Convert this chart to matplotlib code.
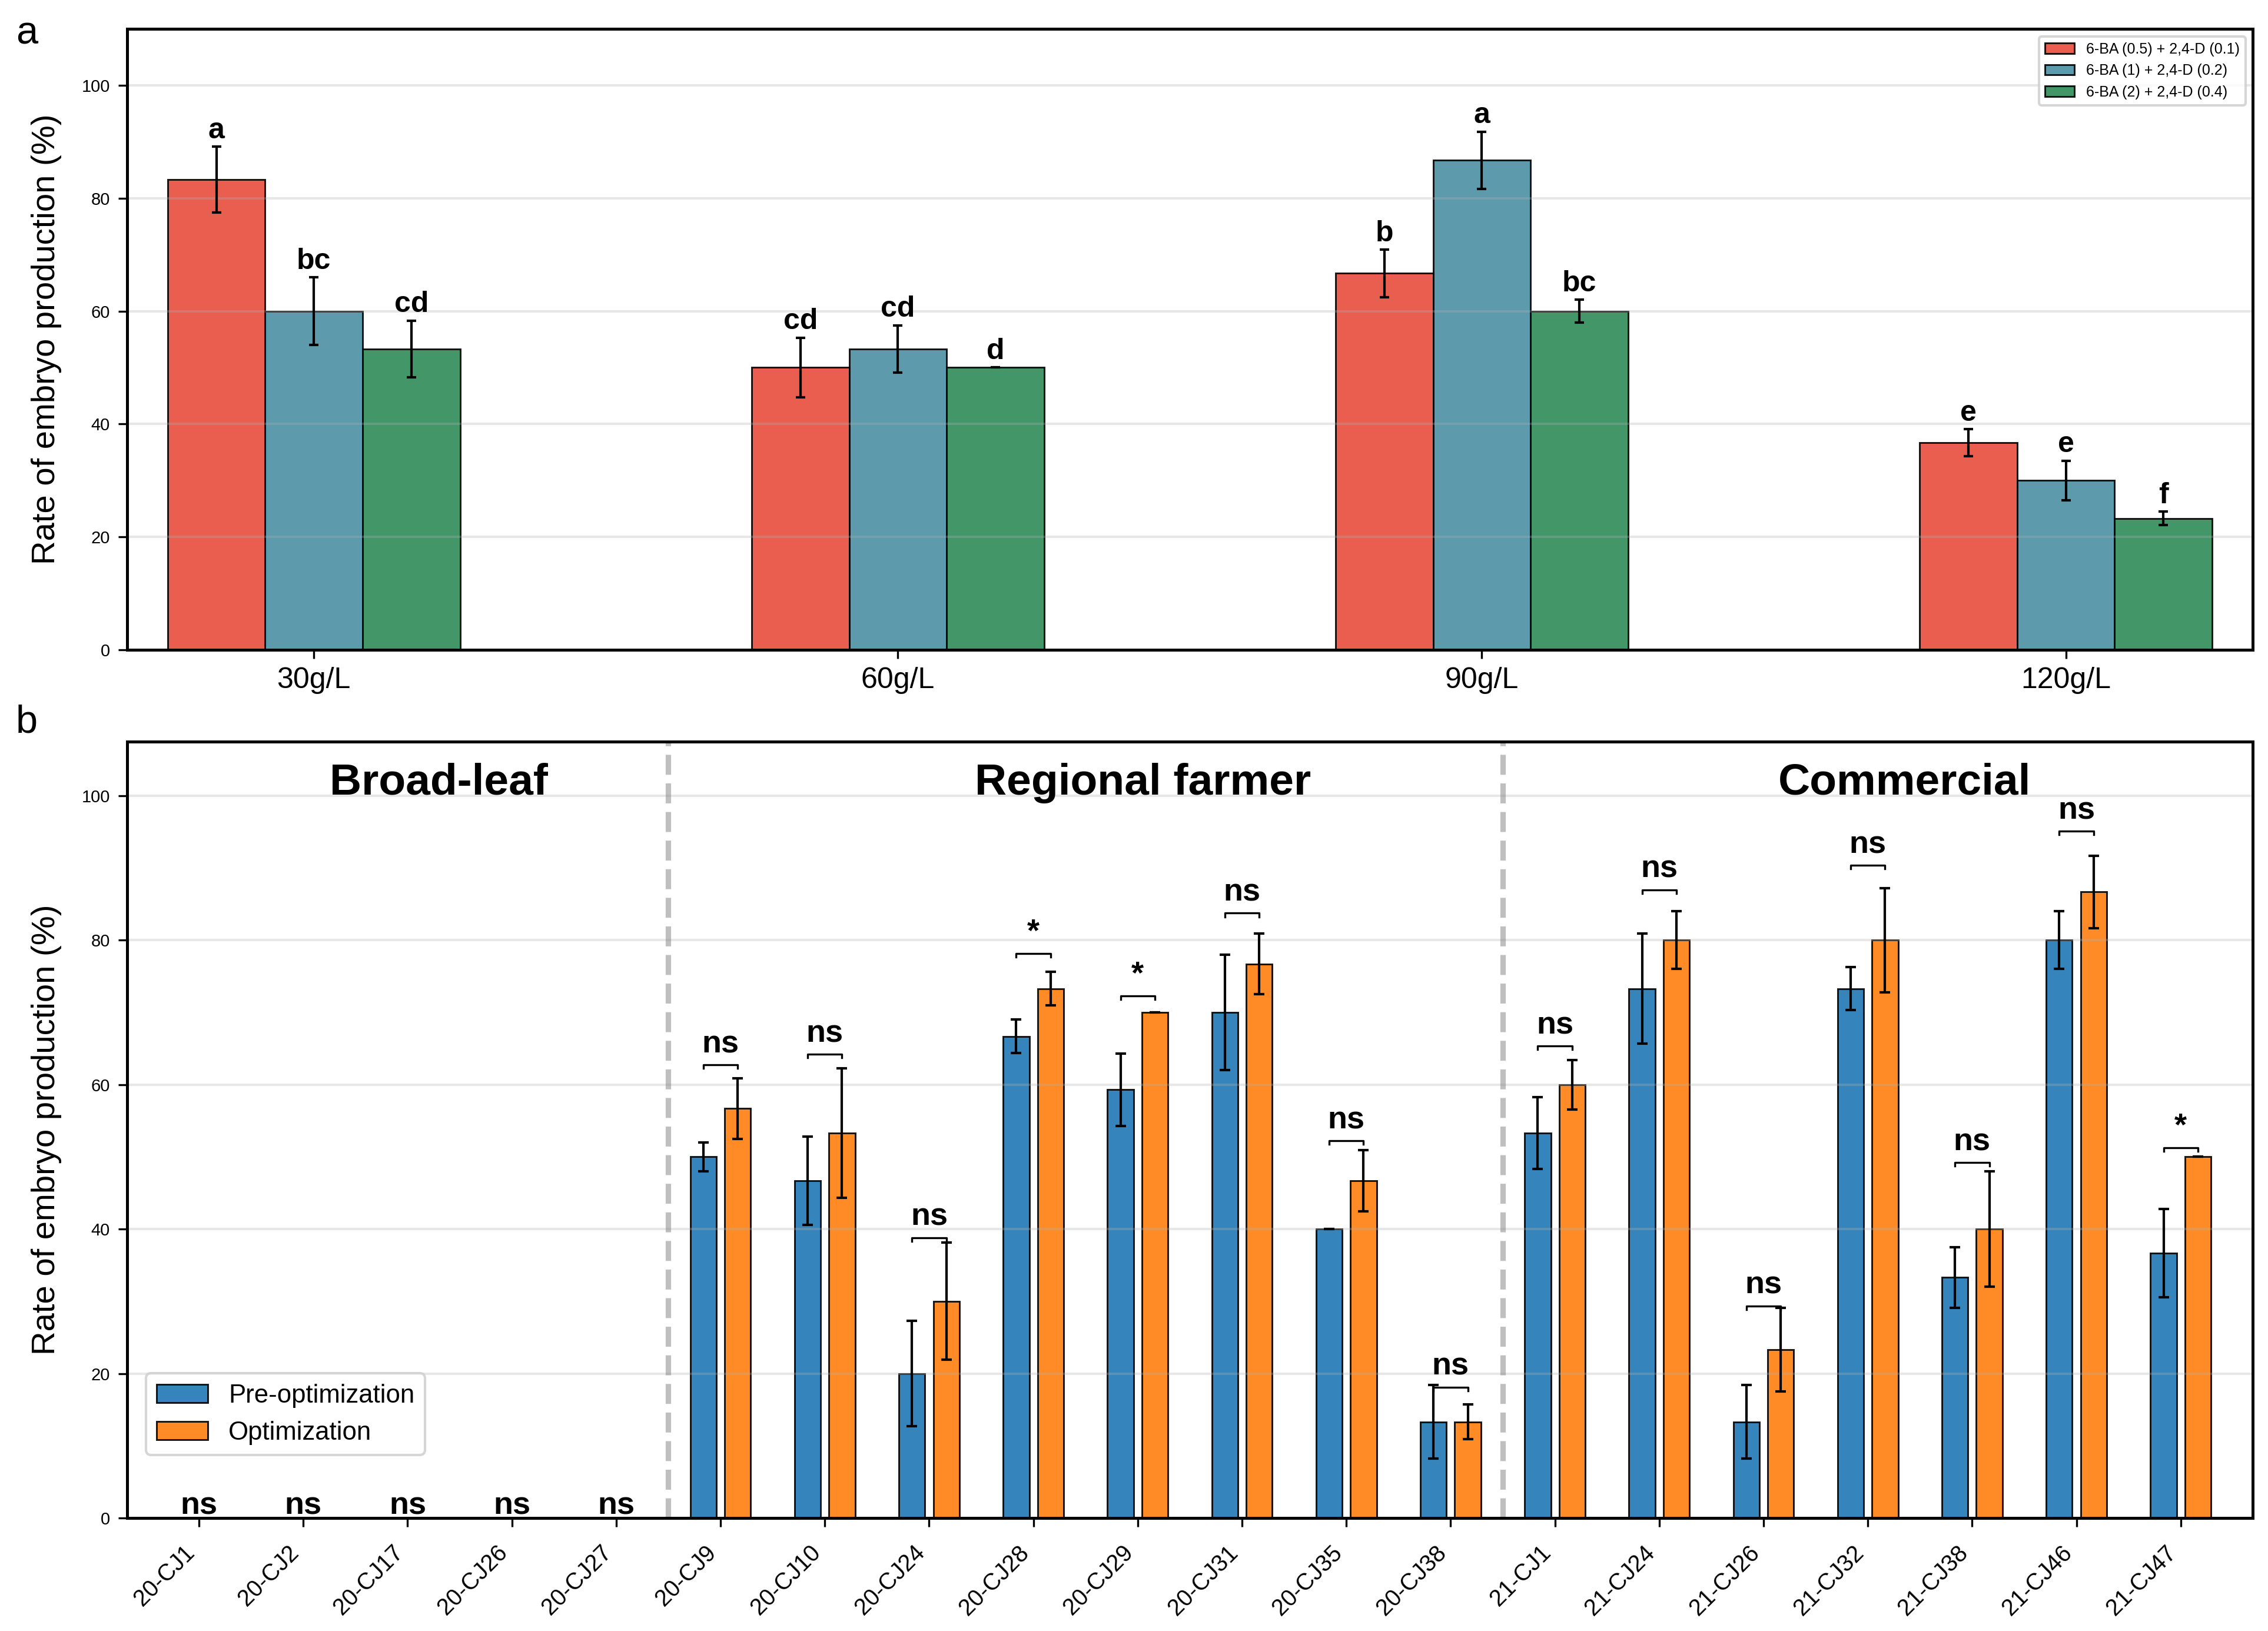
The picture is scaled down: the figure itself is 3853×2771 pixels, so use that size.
import matplotlib
matplotlib.use("Agg")
import matplotlib.pyplot as plt
import numpy as np

plt.rcParams["font.family"] = ["Liberation Sans", "DejaVu Sans"]

# panel a: sucrose concentration x hormone combination
CONC = ["30g/L", "60g/L", "90g/L", "120g/L"]
TREAT = ["6-BA (0.5) + 2,4-D (0.1)", "6-BA (1) + 2,4-D (0.2)", "6-BA (2) + 2,4-D (0.4)"]
MEAN_A = [[83.3, 50.0, 66.7, 36.7],
          [60.0, 53.3, 86.7, 30.0],
          [53.3, 50.0, 60.0, 23.3]]
ERR_A = [[5.8, 5.3, 4.2, 2.4],
         [6.0, 4.2, 5.1, 3.5],
         [5.0, 0.0, 2.0, 1.2]]
LETTERS = [["a", "cd", "b", "e"],
           ["bc", "cd", "a", "e"],
           ["cd", "d", "bc", "f"]]
COL_A = ["#E74C3C", "#4A8FA3", "#2E8B57"]

# panel b: cultivars before / after optimisation
CULTIVARS = ["20-CJ1", "20-CJ2", "20-CJ17", "20-CJ26", "20-CJ27",
             "20-CJ9", "20-CJ10", "20-CJ24", "20-CJ28", "20-CJ29", "20-CJ31", "20-CJ35", "20-CJ38",
             "21-CJ1", "21-CJ24", "21-CJ26", "21-CJ32", "21-CJ38", "21-CJ46", "21-CJ47"]
PRE = [0, 0, 0, 0, 0,
       50.0, 46.7, 20.0, 66.7, 59.3, 70.0, 40.0, 13.3,
       53.3, 73.3, 13.3, 73.3, 33.3, 80.0, 36.7]
PRE_ERR = [0, 0, 0, 0, 0,
           2.0, 6.1, 7.3, 2.3, 5.0, 8.0, 0.0, 5.1,
           5.0, 7.6, 5.1, 3.0, 4.2, 4.0, 6.1]
OPT = [0, 0, 0, 0, 0,
       56.7, 53.3, 30.0, 73.3, 70.0, 76.7, 46.7, 13.3,
       60.0, 80.0, 23.3, 80.0, 40.0, 86.7, 50.0]
OPT_ERR = [0, 0, 0, 0, 0,
           4.2, 9.0, 8.1, 2.3, 0.0, 4.2, 4.2, 2.4,
           3.4, 4.0, 5.8, 7.2, 8.0, 5.0, 0.0]
SIG = ["ns", "ns", "ns", "ns", "ns",
       "ns", "ns", "ns", "*", "*", "ns", "ns", "ns",
       "ns", "ns", "ns", "ns", "ns", "ns", "*"]
GROUPS = ["Broad-leaf", "Regional farmer", "Commercial"]
GROUP_SIZE = [5, 8, 7]

fig = plt.figure(figsize=(3854 / 300, 2771 / 300), dpi=300)
ax1 = fig.add_axes([0.0560, 0.6016, 0.9370, 0.3807])
ax2 = fig.add_axes([0.0560, 0.0693, 0.9370, 0.4760])

# ---- panel a
x = np.arange(len(CONC))
w = 0.167
for i in range(3):
    xs = x + (i - 1) * w
    ax1.bar(xs, MEAN_A[i], w, color=COL_A[i], alpha=0.9, edgecolor="black",
            linewidth=0.7, label=TREAT[i])
    ax1.errorbar(xs, MEAN_A[i], yerr=ERR_A[i], fmt="none", ecolor="black",
                 elinewidth=1.0, capsize=2.0, capthick=1.0)
    for xi, m, e, lab in zip(xs, MEAN_A[i], ERR_A[i], LETTERS[i]):
        ax1.text(xi, m + e + 1.5, lab, ha="center", va="baseline",
                 fontsize=12, fontweight="bold")

ax1.set_xticks(x)
ax1.set_xticklabels(CONC, fontsize=12)
ax1.set_xlim(-0.32, 3.32)
ax1.set_ylim(0, 110)
ax1.set_yticks(range(0, 101, 20))
ax1.tick_params(axis="y", labelsize=7)
ax1.set_ylabel("Rate of embryo production (%)", fontsize=13.5, labelpad=8)
ax1.grid(axis="y", alpha=0.3, linewidth=1.0)
ax1.legend(loc="upper right", fontsize=6)

# ---- panel b
xb = np.arange(len(CULTIVARS))
wb = 0.25
off = 0.165
ax2.bar(xb - off, PRE, wb, color="#1f77b4", alpha=0.9, edgecolor="black",
        linewidth=0.7, label="Pre-optimization")
ax2.bar(xb + off, OPT, wb, color="#ff7f0e", alpha=0.9, edgecolor="black",
        linewidth=0.7, label="Optimization")

for i in range(len(CULTIVARS)):
    top = max(PRE[i] + PRE_ERR[i], OPT[i] + OPT_ERR[i])
    if top > 0:
        ax2.errorbar([xb[i] - off, xb[i] + off], [PRE[i], OPT[i]],
                     yerr=[PRE_ERR[i], OPT_ERR[i]], fmt="none", ecolor="black",
                     elinewidth=1.0, capsize=2.2, capthick=1.0)
    ty = top * 1.05 + 0.5
    if top > 0:
        by = ty - 1.7
        ax2.plot([xb[i] - off, xb[i] - off, xb[i] + off, xb[i] + off],
                 [by - 0.5, by, by, by - 0.5], color="black", lw=0.8)
    ax2.text(xb[i], ty, SIG[i], ha="center", va="baseline",
             fontsize=13, fontweight="bold")

# group separators and titles
bounds = np.cumsum(GROUP_SIZE)[:-1] - 0.5
for b in bounds:
    ax2.axvline(b, color="gray", alpha=0.5, lw=2.2, ls="--")
for name, gx in zip(GROUPS, [2.3, 9.05, 16.35]):
    ax2.text(gx, 100.2, name, ha="center", va="baseline",
             fontsize=18, fontweight="bold")

ax2.set_xticks(xb)
ax2.set_xticklabels(CULTIVARS, rotation=45, ha="right", fontsize=9.5)
ax2.tick_params(axis="x", pad=6)
ax2.set_xlim(-0.69, 19.69)
ax2.set_ylim(0, 107.5)
ax2.set_yticks(range(0, 101, 20))
ax2.tick_params(axis="y", labelsize=7)
ax2.set_ylabel("Rate of embryo production (%)", fontsize=13.5, labelpad=8)
ax2.grid(axis="y", alpha=0.3, linewidth=1.0)
ax2.legend(loc="lower left", bbox_to_anchor=(0.009, 0.081), borderaxespad=0,
           fontsize=10.5)

for ax in (ax1, ax2):
    for s in ax.spines.values():
        s.set_linewidth(1.2)

fig.text(0.007, 0.973, "a", fontsize=16, va="baseline")
fig.text(0.007, 0.551, "b", fontsize=16, va="baseline")

fig.savefig("out.png", dpi=300)
